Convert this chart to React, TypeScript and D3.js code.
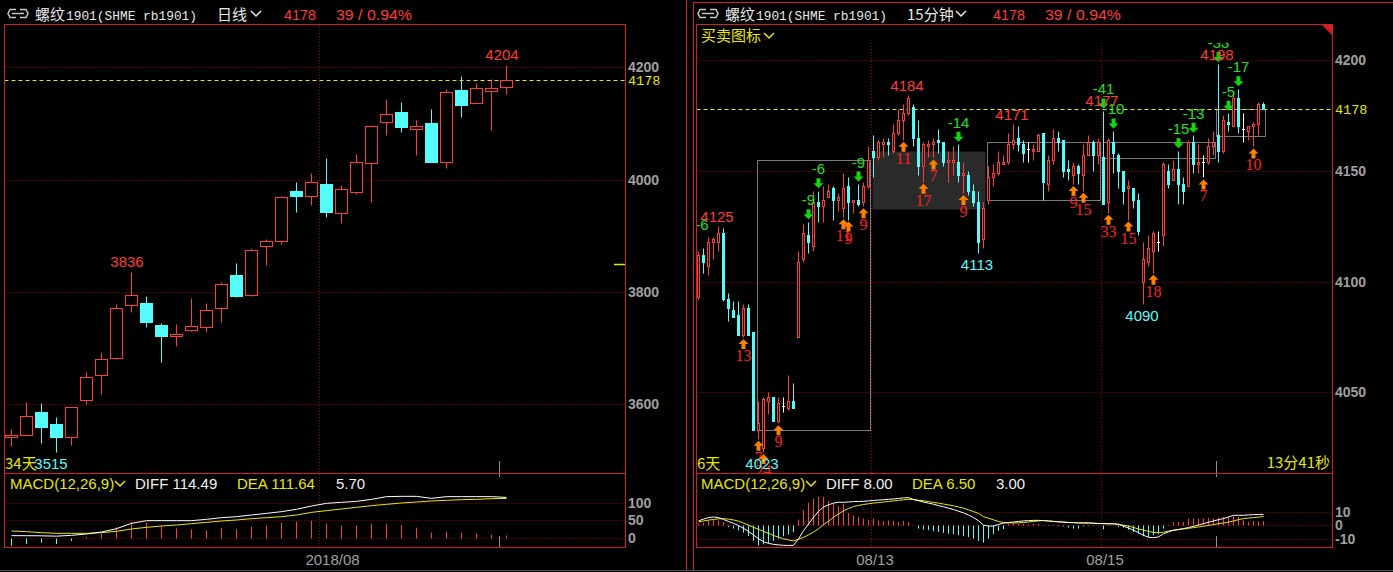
import React from 'react';
import * as d3 from 'd3';

// 日线 rb1901, 34 bars
const dailyOpen = [3542, 3546, 3586, 3565, 3542, 3607, 3652, 3683, 3776, 3780, 3741, 3721, 3732, 3738, 3771, 3830, 3794, 3881, 3890, 3980, 3971, 3992, 3940, 3978, 4030, 4103, 4120, 4091, 4101, 4032, 4160, 4137, 4157, 4165];
const dailyHigh = [3556, 3604, 3602, 3577, 3596, 3657, 3693, 3779, 3836, 3793, 3745, 3743, 3789, 3780, 3818, 3852, 3878, 3894, 3970, 3995, 4011, 4039, 3991, 4046, 4097, 4144, 4139, 4106, 4126, 4161, 4184, 4172, 4180, 4204];
const dailyLow = [3525, 3545, 3531, 3515, 3527, 3601, 3619, 3681, 3765, 3737, 3676, 3703, 3731, 3728, 3747, 3791, 3793, 3848, 3885, 3943, 3955, 3934, 3923, 3975, 3961, 4079, 4085, 4044, 4032, 4021, 4112, 4136, 4088, 4152];
const dailyClose = [3546, 3579, 3560, 3541, 3595, 3649, 3680, 3771, 3794, 3747, 3721, 3725, 3739, 3768, 3814, 3792, 3874, 3890, 3969, 3970, 3996, 3943, 3983, 4031, 4096, 4116, 4094, 4096, 4032, 4156, 4133, 4163, 4163, 4178];
const dailyDiff = [5.2, 5.2, 4.8, 3.8, 6.2, 10, 15.7, 25.2, 40.5, 48.1, 48.1, 48.1, 48.1, 51.9, 56.7, 59.5, 64.3, 69, 73.8, 80.5, 90, 97.6, 100.5, 103.3, 109, 116.7, 117.6, 117.6, 111.9, 116.7, 116.7, 116.7, 116.7, 114.49];
const dailyDea = [18.6, 16.7, 13.8, 11.9, 11.9, 11.9, 13.8, 17.6, 24.3, 29, 32.9, 35.7, 39.5, 43.3, 47.1, 50, 53.8, 56.7, 59.5, 64.3, 71.9, 76.7, 81.4, 86.2, 91, 94.8, 98.6, 101.4, 104.3, 106.2, 108.1, 109, 110.9, 111.64];
const dailyMacd = [-24, -18.6, -14.8, -18.6, -10, 2, 12, 29, 43, 42, 34, 26, 23, 21, 28, 24, 31, 34, 42, 45, 48, 40, 34, 34, 38.6, 39.5, 35.7, 28, 13.8, 16.7, 13.8, 11, 8, 5.7];
const dailyTicks = [3600, 3800, 4000, 4200];
const dailyMacdTicks = [0, 50, 100];
const dailyMonthStart = [21];
const dailyMonthLabels = ['2018/08'];
const dailyHighMarks = [8, 33];
const dailyLowMarks = [3];
const dailySideMark = 3849;

// 15分钟 rb1901, 114 bars
const m15Open = [
  4093, 4112, 4107, 4118, 4118, 4122, 4092, 4087, 4085, 4076,
  4088, 4077, 4033, 4025, 4046, 4048, 4037, 4044, 4043, 4046,
  4075, 4110, 4121, 4116, 4136, 4134, 4138, 4142, 4137, 4133,
  4143, 4136, 4137, 4136, 4143, 4159, 4156, 4162, 4163, 4159,
  4167, 4173, 4176, 4179, 4165, 4152, 4161, 4162, 4164, 4163,
  4154, 4154, 4154, 4148, 4148, 4141, 4136, 4119, 4137, 4147,
  4149, 4153, 4154, 4162, 4165, 4162, 4160, 4159, 4159, 4167,
  4144, 4155, 4165, 4164, 4151, 4148, 4152, 4148, 4157, 4163,
  4157, 4156, 4136, 4163, 4157, 4150, 4142, 4142, 4137, 4100,
  4109, 4114, 4118, 4121, 4150, 4146, 4151, 4144, 4143, 4163,
  4153, 4154, 4154, 4161, 4166, 4159, 4172, 4170, 4183, 4169,
  4168, 4170, 4171, 4180];
const m15High = [
  4114, 4115, 4120, 4120, 4125, 4124, 4095, 4091, 4091, 4090,
  4090, 4077, 4046, 4048, 4050, 4048, 4048, 4048, 4058, 4054,
  4114, 4126, 4127, 4141, 4141, 4143, 4144, 4143, 4140, 4149,
  4147, 4137, 4144, 4145, 4161, 4166, 4164, 4165, 4165, 4171,
  4178, 4180, 4184, 4180, 4173, 4163, 4164, 4165, 4169, 4163,
  4159, 4161, 4162, 4154, 4150, 4144, 4141, 4136, 4152, 4153,
  4159, 4157, 4167, 4171, 4170, 4164, 4163, 4162, 4167, 4167,
  4157, 4169, 4168, 4164, 4155, 4154, 4153, 4162, 4166, 4164,
  4165, 4177, 4165, 4168, 4158, 4150, 4146, 4142, 4140, 4118,
  4121, 4123, 4123, 4154, 4153, 4155, 4159, 4147, 4164, 4166,
  4162, 4157, 4165, 4168, 4198, 4175, 4176, 4185, 4187, 4176,
  4170, 4172, 4181, 4181];
const m15Low = [
  4092, 4104, 4103, 4110, 4114, 4091, 4082, 4084, 4076, 4075,
  4076, 4033, 4029, 4023, 4040, 4037, 4036, 4041, 4042, 4043,
  4075, 4109, 4113, 4114, 4127, 4127, 4138, 4128, 4132, 4129,
  4128, 4131, 4134, 4134, 4142, 4147, 4155, 4156, 4157, 4158,
  4166, 4164, 4175, 4161, 4148, 4145, 4156, 4156, 4158, 4152,
  4145, 4148, 4145, 4140, 4139, 4134, 4113, 4115, 4135, 4143,
  4148, 4153, 4153, 4160, 4159, 4154, 4154, 4155, 4159, 4137,
  4141, 4153, 4159, 4147, 4146, 4144, 4144, 4141, 4157, 4150,
  4153, 4135, 4131, 4149, 4142, 4135, 4128, 4133, 4121, 4090,
  4107, 4104, 4114, 4116, 4142, 4146, 4135, 4135, 4143, 4149,
  4149, 4147, 4153, 4157, 4154, 4158, 4168, 4170, 4167, 4163,
  4164, 4161, 4166, 4178];
const m15Close = [
  4112, 4109, 4118, 4119, 4122, 4092, 4088, 4084, 4076, 4088,
  4076, 4033, 4036, 4047, 4048, 4037, 4045, 4044, 4046, 4043,
  4109, 4122, 4118, 4136, 4134, 4137, 4141, 4137, 4138, 4142,
  4136, 4137, 4135, 4143, 4155, 4156, 4163, 4163, 4162, 4167,
  4173, 4176, 4183, 4165, 4152, 4162, 4162, 4163, 4163, 4154,
  4155, 4155, 4148, 4149, 4141, 4136, 4118, 4133, 4147, 4149,
  4154, 4154, 4162, 4164, 4162, 4158, 4160, 4160, 4166, 4145,
  4155, 4165, 4163, 4150, 4150, 4152, 4149, 4157, 4163, 4157,
  4163, 4135, 4164, 4158, 4150, 4141, 4143, 4137, 4123, 4110,
  4115, 4122, 4118, 4153, 4144, 4151, 4144, 4141, 4163, 4153,
  4154, 4154, 4161, 4163, 4159, 4173, 4171, 4183, 4170, 4169,
  4170, 4171, 4180, 4178];
const m15Diff = [
  3.2, 4.5, 5.6, 6.1, 5.6, 4.3, 2.8, 1.4, -0.2, -2.2,
  -4.5, -7.1, -9.8, -12, -13.2, -13.9, -14.3, -14.6, -14.7, -14.6,
  -9.9, -4, 1, 5.8, 10.2, 13.3, 15, 16.2, 16.8, 16.8,
  17, 17.3, 17.4, 17.5, 17.8, 18.2, 18.4, 18.7, 19, 19.2,
  19.6, 20, 20.2, 18.8, 17.9, 17, 16.2, 15.4, 14.4, 13.5,
  12.5, 11.5, 10.3, 9.1, 7.5, 5.7, 3.3, 0.2, -0.6, -0.5,
  0.6, 1.6, 2, 2.4, 2.8, 3.2, 3.4, 3.6, 3.6, 3.4,
  3.1, 2.8, 2.5, 2.3, 2, 1.9, 1.7, 1.7, 1.7, 1.5,
  1.3, 1.2, 1.2, 1.1, 0.8, -0.6, -2, -3.6, -5.4, -7.3,
  -8.7, -9, -8.5, -6.2, -4.8, -3.6, -3, -2.4, -1.6, -0.8,
  0.2, 1.2, 2.2, 3.2, 4.1, 4.9, 6.1, 7.3, 7.3, 7.3,
  7.6, 7.8, 7.9, 8.0];
const m15Dea = [
  2.4, 3.2, 3.8, 4.3, 4.7, 4.9, 4.5, 3.9, 3.1, 1.6,
  0.2, -1.5, -2.9, -4.4, -5.9, -7.4, -8.7, -9.9, -10.7, -11.4,
  -10.2, -8.8, -7, -5, -2.5, 0.5, 3, 5.8, 8.3, 10.6,
  12.2, 13.7, 14.5, 15.2, 15.7, 16.2, 16.6, 17, 17.4, 17.8,
  18.2, 18.6, 19, 18.8, 18.3, 17.9, 17.3, 16.7, 16.2, 15.5,
  14.9, 14.2, 13.4, 12.5, 11.3, 10, 8.7, 6.3, 5.2, 4,
  2.8, 2, 1.8, 1.7, 1.8, 2.1, 2.4, 2.8, 3.2, 3.5,
  3.2, 2.9, 2.6, 2.4, 2.1, 2, 1.9, 1.8, 1.7, 1.5,
  1.3, 1.2, 1.1, 1, 0.7, 0.1, -0.6, -1.6, -2.7, -3.5,
  -4.5, -5.2, -5.5, -5, -4.2, -3.6, -3.1, -2.7, -2.2, -1.7,
  -1.2, -0.7, -0.1, 0.5, 1.2, 1.7, 2.3, 3.2, 4.1, 4.9,
  5.3, 5.6, 6, 6.5];
const m15Macd = [
  1.2, 1.9, 3.6, 4.1, 3.6, 2.4, -1.2, -2.4, -3.6, -5.4,
  -7.8, -11.4, -14.8, -13.9, -12.9, -11.4, -9.7, -8, -6.8, -5.1,
  4.1, 10.9, 16.5, 19.5, 20.7, 20.7, 17.8, 15.8, 14.1, 15.8,
  9, 7.3, 6.1, 4.9, 4.1, 4.9, 3.6, 3.2, 3.6, 3.2,
  2.4, 3.2, 2.4, 0, -2.4, -3.2, -3.6, -4.4, -4.9, -5.6,
  -6.1, -6.6, -7.3, -8, -8.5, -9.7, -11.4, -12.7, -9.7, -6.6,
  -4.1, -2.7, 1.2, 1.2, 1, 1.2, 0.7, 1.2, 1, -0.3,
  -0.5, -0.4, -0.6, -0.8, -1.7, -2.4, -2.4, -0.8, -0.5, -0.4,
  -0.3, -2.9, -0.5, -0.3, -1.2, -1.7, -3.2, -4.9, -6.1, -8,
  -8.5, -7.3, -6.1, -2.4, 0.3, 2.4, 2.4, 2.4, 4.9, 4.9,
  4.9, 4.9, 5.4, 4.9, 5.6, 6.1, 6.1, 6.6, 6.1, 3.6,
  2.4, 3.2, 2.9, 3.0];
const m15Ticks = [4050, 4100, 4150, 4200];
const m15MacdTicks = [-10, 0, 10];
const m15DayStart = [35, 81];
const m15DayLabels = ['08/13', '08/15'];
const m15HighMarks = [4, 42, 63, 81, 104];
const m15LowMarks = [13, 56, 89];

// 买卖图标 signals (bar index, label)
const buyIdx = [9, 12, 13, 16, 29, 30, 33, 41, 45, 47, 53, 75, 77, 82, 86, 91, 101, 111];
const buyLabels = ['13', '7', '24', '9', '11', '9', '9', '11', '17', '7', '9', '9', '15', '33', '15', '18', '7', '10'];
const sellIdx = [22, 24, 32, 52, 81, 83, 96, 99, 104, 106, 108];
const sellLabels = ['-9', '-6', '-9', '-14', '-41', '-10', '-15', '-13', '-33', '-5', '-17'];

// consolidation boxes (bar index range, price range)
const zoneStart = [12.35, 35.25, 58.35, 81.55, 104.1];
const zoneEnd = [34.85, 57.9, 80.9, 103.9, 113.85];
const zoneLow = [4033, 4133, 4137, 4156, 4166];
const zoneHigh = [4155, 4159, 4163, 4163, 4178];
const zoneFilled = [false, true, false, false, false];

const RED = '#ff3c3c';
const CYAN = '#54fcfc';
const YELLOW = '#e8e800';
const FRAME = '#d02020';
const GRID = '#a00000';
const GRAY = '#a0a0a0';
const GREEN = '#10d810';
const ORANGE = '#ff8000';
const SANS = '"Liberation Sans", Arial, sans-serif';
const CJK = '"Noto Sans CJK SC", sans-serif';
const MONO = '"Liberation Mono", monospace';
const SERIF = '"Liberation Serif", serif';

const px = (v: number) => Math.round(v) + 0.5;

function Candles({ open, high, low, close, x, y, half }: any) {
  return (
    <g>
      {open.map((o: number, i: number) => {
        const c = close[i];
        const cx = px(x(i + 0.5));
        const yh = px(y(high[i]));
        const yl = px(y(low[i]));
        const yo = px(y(o));
        const yc = px(y(c));
        const top = Math.min(yo, yc);
        const bot = Math.max(yo, yc);
        if (c === o) {
          return (
            <g key={i} stroke="#ffffff" strokeWidth={1}>
              <line x1={cx} x2={cx} y1={yh} y2={yl} />
              <line x1={cx - half - 0.5} x2={cx + half + 0.5} y1={yo} y2={yo} />
            </g>
          );
        }
        if (c > o) {
          return (
            <g key={i} stroke={RED} strokeWidth={1}>
              {yh < top && <line x1={cx} x2={cx} y1={yh} y2={top} />}
              {yl > bot && <line x1={cx} x2={cx} y1={bot} y2={yl} />}
              <rect x={cx - half} y={top} width={half * 2} height={Math.max(bot - top, 1)} fill="#000" />
            </g>
          );
        }
        return (
          <g key={i}>
            <line x1={cx} x2={cx} y1={yh} y2={yl} stroke={CYAN} strokeWidth={1} />
            <rect x={cx - half - 0.5} y={top - 0.5} width={half * 2 + 1} height={Math.max(bot - top + 1, 2)} fill={CYAN} />
          </g>
        );
      })}
    </g>
  );
}

function Macd({ diff, dea, bars, x, y }: any) {
  const line = d3.line<number>().x((_, i) => px(x(i + 0.5))).y((d) => y(d));
  const y0 = px(y(0));
  return (
    <g>
      {bars.map((v: number, i: number) => (
        <line key={i} x1={px(x(i + 0.5))} x2={px(x(i + 0.5))} y1={y0} y2={y(v)}
          stroke={v >= 0 ? RED : CYAN} strokeWidth={1} />
      ))}
      <path d={line(dea) || ''} fill="none" stroke={YELLOW} strokeWidth={1} />
      <path d={line(diff) || ''} fill="none" stroke="#ffffff" strokeWidth={1} />
    </g>
  );
}

function Chevron({ x, y, color }: { x: number; y: number; color: string }) {
  return <path d={`M${x},${y - 4} L${x + 5},${y + 1} L${x + 10},${y - 4}`} fill="none" stroke={color} strokeWidth={1.5} />;
}

function Header({ x0, period, periodW, priceX }: { x0: number; period: string; periodW: number; priceX: number }) {
  return (
    <g>
      <path d={`M${x0 + 16},9.5 H${x0 + 10} L${x0 + 8},13.5 L${x0 + 10},17.5 H${x0 + 16} M${x0 + 20},9.5 H${x0 + 26} L${x0 + 28},13.5 L${x0 + 26},17.5 H${x0 + 20} M${x0 + 12},13.5 H${x0 + 24}`}
        fill="none" stroke="#c8c8c8" strokeWidth={1.5} />
      <text x={x0 + 35} y={20} fill="#e8e8e8" fontFamily={CJK} fontSize={15}>螺纹</text>
      <text x={x0 + 66} y={20} fill="#e8e8e8" fontFamily={MONO} fontSize={13} textLength={131} lengthAdjust="spacingAndGlyphs">1901(SHME rb1901)</text>
      <text x={x0 + 217} y={20} fill="#e8e8e8" fontFamily={CJK} fontSize={15}>{period}</text>
      <Chevron x={x0 + 217 + periodW + 2} y={15} color="#e8e8e8" />
      <text x={priceX} y={20} fill={RED} fontFamily={SANS} fontSize={15} textLength={32} lengthAdjust="spacingAndGlyphs">4178</text>
      <text x={priceX + 52} y={20} fill={RED} fontFamily={SANS} fontSize={15} textLength={76} lengthAdjust="spacingAndGlyphs">39 / 0.94%</text>
    </g>
  );
}

function MacdHeader({ x0, diff, dea, macd }: any) {
  return (
    <g fontFamily={SANS} fontSize={15}>
      <text x={x0} y={489} fill={YELLOW}>MACD(12,26,9)</text>
      <Chevron x={x0 + 105} y={485} color={YELLOW} />
      <text x={x0 + 125} y={489} fill="#f0f0f0">DIFF {diff}</text>
      <text x={x0 + (diff.length > 4 ? 227 : 211)} y={489} fill={YELLOW}>DEA {dea}</text>
      <text x={x0 + (diff.length > 4 ? 326 : 295)} y={489} fill="#f0f0f0">{macd}</text>
    </g>
  );
}

export default function App() {
  const W = 1393;
  const H = 572;
  const xL = d3.scaleLinear().domain([0, dailyOpen.length]).range([3.5, 3.5 + 15 * dailyOpen.length]);
  const yL = d3.scaleLinear().domain([3600, 4200]).range([404.3, 67.3]);
  const mL = d3.scaleLinear().domain([0, 100]).range([537.5, 502.5]);
  const xR = d3.scaleLinear().domain([0, m15Open.length]).range([695.5, 695.5 + 5 * m15Open.length]);
  const yR = d3.scaleLinear().domain([4050, 4200]).range([392.3, 60]);
  const mR = d3.scaleLinear().domain([-10, 10]).range([539, 511.6]);

  const L = { x0: 4.5, x1: 625.5 };
  const R = { x0: 696.5, x1: 1332.5 };
  const top = 24.5;
  const mid = 473.5;
  const bot = 547.5;
  const last = 4178;

  const buyArrow = (cx: number, t: number) =>
    `M${cx},${t} L${cx + 5},${t + 5} L${cx + 2},${t + 5} L${cx + 2},${t + 10} L${cx - 2},${t + 10} L${cx - 2},${t + 5} L${cx - 5},${t + 5} Z`;
  const sellArrow = (cx: number, b: number) =>
    `M${cx},${b} L${cx + 5},${b - 5} L${cx + 2},${b - 5} L${cx + 2},${b - 10} L${cx - 2},${b - 10} L${cx - 2},${b - 5} L${cx - 5},${b - 5} Z`;

  return (
    <svg width={W} height={H} style={{ position: 'absolute', left: 0, top: 0, display: 'block', background: '#000' }}>
      <defs>
        <clipPath id="clipL"><rect x={5} y={25} width={620} height={448} /></clipPath>
        <clipPath id="clipR"><rect x={697} y={43} width={635} height={430} /></clipPath>
        <clipPath id="clipRM"><rect x={697} y={474} width={635} height={73} /></clipPath>
      </defs>
      <rect width={W} height={H} fill="#000" />

      {/* ---------------- left: daily ---------------- */}
      <Header x0={0} period="日线" periodW={32} priceX={284} />
      {dailyTicks.map((t) => (
        <g key={t}>
          <line x1={L.x0} x2={L.x1} y1={px(yL(t))} y2={px(yL(t))} stroke={GRID} strokeDasharray="1 2" />
          <text x={628} y={yL(t) + 5} fill={GRAY} fontFamily={SANS} fontWeight="bold" fontSize={14}>{t}</text>
        </g>
      ))}
      {dailyMacdTicks.map((t) => (
        <g key={t}>
          <line x1={L.x0} x2={L.x1} y1={px(mL(t))} y2={px(mL(t))} stroke={GRID} strokeDasharray="1 2" />
          <text x={628} y={mL(t) + 5} fill={GRAY} fontFamily={SANS} fontWeight="bold" fontSize={14}>{t}</text>
        </g>
      ))}
      {dailyMonthStart.map((m, k) => (
        <g key={m}>
          <line x1={px(xL(m))} x2={px(xL(m))} y1={27} y2={bot} stroke={GRID} strokeDasharray="1 2" />
          <text x={xL(m) + 14} y={565} fill={GRAY} fontFamily={SANS} fontSize={15} textAnchor="middle">{dailyMonthLabels[k]}</text>
        </g>
      ))}
      <line x1={L.x0} x2={L.x1} y1={px(yL(last))} y2={px(yL(last))} stroke={YELLOW} strokeDasharray="4 3" />
      <text x={628} y={yL(last) + 5} fill={YELLOW} fontFamily={MONO} fontSize={13.5}>{last}</text>
      <line x1={614} x2={625} y1={px(yL(dailySideMark))} y2={px(yL(dailySideMark))} stroke={YELLOW} strokeWidth={1.5} />
      <g clipPath="url(#clipL)">
        <Candles open={dailyOpen} high={dailyHigh} low={dailyLow} close={dailyClose} x={xL} y={yL} half={6} />
        {dailyHighMarks.map((i) => (
          <text key={i} x={xL(i + 0.5) - 4} y={yL(dailyHigh[i]) - 5} fill={RED} fontFamily={SANS} fontSize={15} textAnchor="middle">{dailyHigh[i]}</text>
        ))}
        {dailyLowMarks.map((i) => (
          <text key={i} x={xL(i + 0.5) - 5} y={yL(dailyLow[i]) + 17} fill={CYAN} fontFamily={SANS} fontSize={15} textAnchor="middle">{dailyLow[i]}</text>
        ))}
      </g>
      <text x={5} y={469} fill={YELLOW} fontFamily={CJK} fontSize={15}>34天</text>
      <line x1={499.5} x2={499.5} y1={461} y2={mid} stroke="#909090" />
      <line x1={499.5} x2={499.5} y1={mid} y2={477} stroke="#909090" />
      <line x1={499.5} x2={499.5} y1={536} y2={bot} stroke="#909090" />
      <Macd diff={dailyDiff} dea={dailyDea} bars={dailyMacd} x={xL} y={mL} />
      <MacdHeader x0={10} diff="114.49" dea="111.64" macd="5.70" />
      <rect x={L.x0} y={top} width={L.x1 - L.x0} height={mid - top} fill="none" stroke={FRAME} />
      <rect x={L.x0} y={mid} width={L.x1 - L.x0} height={bot - mid} fill="none" stroke={FRAME} />
      <line x1={686.5} x2={686.5} y1={0} y2={570} stroke={FRAME} />

      {/* ---------------- right: 15 min ---------------- */}
      <Header x0={690} period="15分钟" periodW={47} priceX={993} />
      <line x1={693} x2={W} y1={2.5} y2={2.5} stroke={FRAME} />
      <line x1={693.5} x2={693.5} y1={2.5} y2={570} stroke={FRAME} />
      {m15Ticks.map((t) => (
        <g key={t}>
          <line x1={R.x0} x2={R.x1} y1={px(yR(t))} y2={px(yR(t))} stroke={GRID} strokeDasharray="1 2" />
          <text x={1335} y={yR(t) + 5} fill={GRAY} fontFamily={SANS} fontWeight="bold" fontSize={14}>{t}</text>
        </g>
      ))}
      {m15MacdTicks.map((t) => (
        <g key={t}>
          <line x1={R.x0} x2={R.x1} y1={px(mR(t))} y2={px(mR(t))} stroke={GRID} strokeDasharray="1 2" />
          <text x={1335} y={mR(t) + 5} fill={GRAY} fontFamily={SANS} fontWeight="bold" fontSize={14}>{t}</text>
        </g>
      ))}
      {m15DayStart.map((d, k) => (
        <g key={d}>
          <line x1={px(xR(d))} x2={px(xR(d))} y1={43} y2={bot} stroke={GRID} strokeDasharray="1 2" />
          <text x={xR(d) + 4.5} y={565} fill={GRAY} fontFamily={SANS} fontSize={15} textAnchor="middle">{m15DayLabels[k]}</text>
        </g>
      ))}
      {zoneStart.map((s, k) => (
        <rect key={k} x={px(xR(s))} y={px(yR(zoneHigh[k]))} width={Math.round(xR(zoneEnd[k]) - xR(s))}
          height={Math.round(yR(zoneLow[k]) - yR(zoneHigh[k]))}
          fill={zoneFilled[k] ? '#2a2a2a' : 'none'} stroke={zoneFilled[k] ? 'none' : '#7a7a7a'} />
      ))}
      <line x1={R.x0} x2={R.x1} y1={px(yR(last))} y2={px(yR(last))} stroke={YELLOW} strokeDasharray="4 3" />
      <text x={1335} y={yR(last) + 5} fill={YELLOW} fontFamily={MONO} fontSize={13.5}>{last}</text>
      <g clipPath="url(#clipR)">
        <Candles open={m15Open} high={m15High} low={m15Low} close={m15Close} x={xR} y={yR} half={1} />
        {buyIdx.map((i, k) => {
          const cx = px(xR(i + 0.5));
          const t = yR(m15Low[i]) + 2;
          return (
            <g key={'b' + k}>
              <path d={buyArrow(cx, t)} fill={ORANGE} />
              <text x={cx} y={t + 22} fill="#ff2020" fontFamily={SERIF} fontSize={16} textAnchor="middle">{buyLabels[k]}</text>
            </g>
          );
        })}
        {sellIdx.map((i, k) => {
          const cx = px(xR(i + 0.5));
          const b = yR(m15High[i]) - 2.5;
          return (
            <g key={'s' + k}>
              <path d={sellArrow(cx, b)} fill={GREEN} />
              <text x={cx} y={b - 14} fill="#20e020" fontFamily={SANS} fontSize={15} textAnchor="middle">{sellLabels[k]}</text>
            </g>
          );
        })}
        <text x={702} y={230} fill="#20e020" fontFamily={SANS} fontSize={15} textAnchor="middle">-6</text>
        {m15HighMarks.map((i) => (
          <text key={i} x={xR(i + 0.5) - 1} y={yR(m15High[i]) - 4.5} fill={RED} fontFamily={SANS} fontSize={15} textAnchor="middle">{m15High[i]}</text>
        ))}
        {m15LowMarks.map((i) => (
          <text key={i} x={xR(i + 0.5) - 1} y={yR(m15Low[i]) + 17} fill={CYAN} fontFamily={SANS} fontSize={15} textAnchor="middle">{m15Low[i]}</text>
        ))}
      </g>
      <text x={701} y={41} fill={YELLOW} fontFamily={CJK} fontSize={15}>买卖图标</text>
      <Chevron x={764} y={37} color={YELLOW} />
      <text x={697} y={469} fill={YELLOW} fontFamily={CJK} fontSize={15}>6天</text>
      <text x={1330} y={468} fill={YELLOW} fontFamily={CJK} fontSize={15} textAnchor="end">13分41秒</text>
      <line x1={1216.5} x2={1216.5} y1={461} y2={mid} stroke="#909090" />
      <line x1={1216.5} x2={1216.5} y1={mid} y2={477} stroke="#909090" />
      <line x1={1216.5} x2={1216.5} y1={536} y2={bot} stroke="#909090" />
      <g clipPath="url(#clipRM)">
        <Macd diff={m15Diff} dea={m15Dea} bars={m15Macd} x={xR} y={mR} />
      </g>
      <MacdHeader x0={701} diff="8.00" dea="6.50" macd="3.00" />
      <rect x={R.x0} y={top} width={R.x1 - R.x0} height={mid - top} fill="none" stroke={FRAME} />
      <rect x={R.x0} y={mid} width={R.x1 - R.x0} height={bot - mid} fill="none" stroke={FRAME} />
      <path d={`M${R.x1 - 11},${top} L${R.x1},${top} L${R.x1},${top + 11} Z`} fill={FRAME} />

      <line x1={0} x2={W} y1={570.5} y2={570.5} stroke="#505050" />
    </svg>
  );
}
